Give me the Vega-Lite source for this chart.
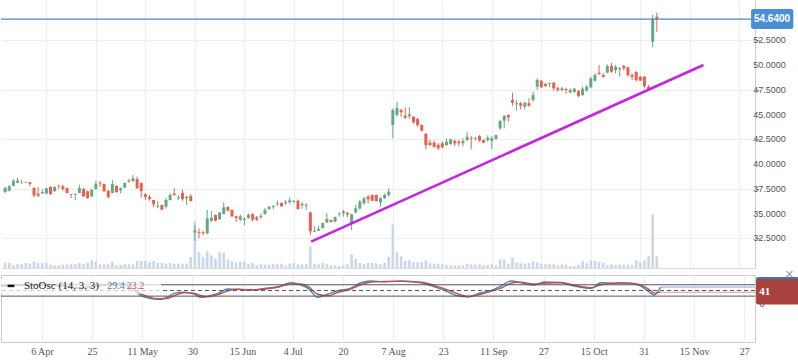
{
  "$schema": "https://vega.github.io/schema/vega-lite/v6.json",
  "padding": 0,
  "background": "white",
  "spacing": 7,
  "bounds": "flush",
  "config": {"view": {"stroke": null}},
  "datasets": {
    "candles": [
      {"k":-1,"o":37.18,"h":37.68,"l":37.08,"c":37.58,"v":0.93},
      {"k":0,"o":37.31,"h":37.88,"l":37.23,"c":37.75,"v":0.93},
      {"k":1,"o":37.81,"h":38.49,"l":37.73,"c":38.32,"v":0.5},
      {"k":2,"o":38.12,"h":38.59,"l":38.06,"c":38.32,"v":0.75},
      {"k":3,"o":38.06,"h":38.39,"l":38.01,"c":38.11,"v":0.75},
      {"k":4,"o":38.19,"h":38.24,"l":38.09,"c":38.14,"v":0.93},
      {"k":5,"o":38.16,"h":38.2,"l":37.75,"c":37.99,"v":0.84},
      {"k":6,"o":37.58,"h":37.68,"l":36.64,"c":36.84,"v":1.21},
      {"k":7,"o":37.0,"h":37.68,"l":36.67,"c":36.8,"v":0.93},
      {"k":8,"o":37.04,"h":37.45,"l":36.98,"c":37.18,"v":0.93},
      {"k":9,"o":37.0,"h":37.6,"l":36.95,"c":37.55,"v":1.03},
      {"k":10,"o":37.68,"h":37.75,"l":36.9,"c":36.98,"v":0.65},
      {"k":11,"o":37.25,"h":37.75,"l":37.18,"c":37.68,"v":0.5},
      {"k":12,"o":37.86,"h":37.9,"l":37.48,"c":37.81,"v":0.5},
      {"k":13,"o":37.75,"h":37.91,"l":37.31,"c":37.48,"v":0.62},
      {"k":14,"o":37.58,"h":37.63,"l":37.0,"c":37.08,"v":0.62},
      {"k":15,"o":36.97,"h":37.0,"l":36.57,"c":36.9,"v":0.8},
      {"k":16,"o":36.9,"h":37.08,"l":36.37,"c":36.97,"v":0.69},
      {"k":17,"o":37.08,"h":37.91,"l":37.04,"c":37.58,"v":0.93},
      {"k":18,"o":37.48,"h":37.55,"l":36.68,"c":36.74,"v":0.8},
      {"k":19,"o":37.25,"h":37.3,"l":36.5,"c":36.57,"v":0.99},
      {"k":20,"o":36.74,"h":37.45,"l":36.68,"c":37.41,"v":1.44},
      {"k":21,"o":37.48,"h":38.32,"l":37.4,"c":37.99,"v":1.18},
      {"k":22,"o":38.12,"h":38.26,"l":37.68,"c":38.04,"v":0.69},
      {"k":23,"o":37.99,"h":38.02,"l":37.2,"c":37.25,"v":0.69},
      {"k":24,"o":37.31,"h":37.35,"l":36.6,"c":36.64,"v":0.69},
      {"k":25,"o":37.08,"h":38.42,"l":37.05,"c":37.99,"v":1.18},
      {"k":26,"o":37.78,"h":37.85,"l":37.1,"c":37.18,"v":0.5},
      {"k":27,"o":37.35,"h":37.65,"l":37.04,"c":37.55,"v":0.56},
      {"k":28,"o":37.61,"h":38.15,"l":37.55,"c":38.09,"v":0.69},
      {"k":29,"o":38.32,"h":38.49,"l":38.12,"c":38.22,"v":0.69},
      {"k":30,"o":38.29,"h":38.89,"l":38.16,"c":38.56,"v":0.69},
      {"k":31,"o":38.49,"h":38.72,"l":37.5,"c":37.55,"v":1.31},
      {"k":32,"o":38.09,"h":38.12,"l":36.64,"c":37.28,"v":1.31},
      {"k":33,"o":36.95,"h":37.04,"l":36.37,"c":36.67,"v":1.31},
      {"k":34,"o":36.67,"h":36.87,"l":36.3,"c":36.47,"v":1.06},
      {"k":35,"o":36.37,"h":36.4,"l":35.63,"c":35.94,"v":1.31},
      {"k":36,"o":35.69,"h":36.27,"l":35.53,"c":35.79,"v":0.93},
      {"k":37,"o":35.86,"h":35.9,"l":35.35,"c":35.39,"v":0.93},
      {"k":38,"o":35.69,"h":36.6,"l":35.5,"c":36.37,"v":0.8},
      {"k":39,"o":36.37,"h":37.04,"l":36.3,"c":36.87,"v":0.93},
      {"k":40,"o":37.0,"h":37.55,"l":36.8,"c":36.87,"v":0.8},
      {"k":41,"o":36.54,"h":36.87,"l":36.37,"c":36.64,"v":0.8},
      {"k":42,"o":37.08,"h":37.41,"l":36.3,"c":36.47,"v":0.8},
      {"k":43,"o":36.54,"h":36.8,"l":35.86,"c":36.67,"v":0.8},
      {"k":44,"o":36.77,"h":36.94,"l":36.2,"c":36.27,"v":2.05},
      {"k":45,"o":33.1,"h":33.84,"l":32.23,"c":33.3,"v":8.71},
      {"k":46,"o":33.13,"h":33.51,"l":32.5,"c":33.03,"v":2.93},
      {"k":47,"o":33.1,"h":33.24,"l":32.83,"c":33.0,"v":2.05},
      {"k":48,"o":33.0,"h":35.36,"l":32.9,"c":34.52,"v":3.12},
      {"k":49,"o":34.25,"h":35.26,"l":34.18,"c":34.58,"v":2.37},
      {"k":50,"o":34.85,"h":34.9,"l":34.2,"c":34.28,"v":1.74},
      {"k":51,"o":34.42,"h":35.15,"l":34.35,"c":35.09,"v":2.93},
      {"k":52,"o":34.95,"h":36.14,"l":34.92,"c":35.63,"v":2.8},
      {"k":53,"o":35.66,"h":35.72,"l":35.2,"c":35.29,"v":1.62},
      {"k":54,"o":35.36,"h":35.4,"l":34.65,"c":34.72,"v":1.31},
      {"k":55,"o":34.72,"h":34.76,"l":34.15,"c":34.55,"v":1.06},
      {"k":56,"o":34.38,"h":34.88,"l":34.22,"c":34.72,"v":1.18},
      {"k":57,"o":34.35,"h":34.62,"l":33.81,"c":34.48,"v":1.18},
      {"k":58,"o":34.55,"h":35.0,"l":34.48,"c":34.88,"v":0.75},
      {"k":59,"o":34.95,"h":35.0,"l":34.22,"c":34.38,"v":0.99},
      {"k":60,"o":34.62,"h":34.75,"l":34.22,"c":34.38,"v":0.5},
      {"k":61,"o":34.65,"h":35.0,"l":34.45,"c":34.78,"v":0.69},
      {"k":62,"o":34.95,"h":35.56,"l":34.88,"c":35.36,"v":0.62},
      {"k":63,"o":35.43,"h":35.76,"l":35.38,"c":35.69,"v":0.62},
      {"k":64,"o":35.64,"h":35.89,"l":35.43,"c":35.75,"v":0.69},
      {"k":65,"o":35.92,"h":36.3,"l":35.79,"c":36.01,"v":0.69},
      {"k":66,"o":36.07,"h":36.12,"l":35.68,"c":35.73,"v":0.8},
      {"k":67,"o":36.04,"h":36.37,"l":35.83,"c":36.14,"v":0.5},
      {"k":68,"o":36.14,"h":36.64,"l":35.97,"c":36.34,"v":0.8},
      {"k":69,"o":36.16,"h":36.37,"l":36.07,"c":36.25,"v":0.93},
      {"k":70,"o":36.3,"h":36.4,"l":35.39,"c":35.46,"v":0.69},
      {"k":71,"o":35.83,"h":36.17,"l":35.49,"c":35.97,"v":0.69},
      {"k":72,"o":35.79,"h":36.07,"l":35.39,"c":35.89,"v":0.69},
      {"k":73,"o":35.12,"h":35.16,"l":32.8,"c":33.21,"v":4.05},
      {"k":74,"o":33.17,"h":33.71,"l":33.14,"c":33.27,"v":0.8},
      {"k":75,"o":33.27,"h":33.74,"l":33.23,"c":33.44,"v":0.69},
      {"k":76,"o":33.54,"h":34.08,"l":33.47,"c":34.05,"v":0.93},
      {"k":77,"o":34.08,"h":35.06,"l":34.05,"c":34.45,"v":0.69},
      {"k":78,"o":34.35,"h":34.4,"l":34.1,"c":34.15,"v":0.5},
      {"k":79,"o":34.18,"h":34.7,"l":34.12,"c":34.65,"v":0.5},
      {"k":80,"o":34.92,"h":35.12,"l":34.68,"c":35.0,"v":0.37},
      {"k":81,"o":35.03,"h":35.36,"l":34.68,"c":35.23,"v":0.5},
      {"k":82,"o":35.09,"h":35.12,"l":34.65,"c":34.92,"v":0.69},
      {"k":83,"o":34.05,"h":34.99,"l":33.34,"c":34.92,"v":2.56},
      {"k":84,"o":35.12,"h":35.86,"l":35.0,"c":35.53,"v":1.68},
      {"k":85,"o":35.53,"h":36.37,"l":35.36,"c":36.2,"v":0.93},
      {"k":86,"o":36.04,"h":36.7,"l":35.86,"c":36.54,"v":0.69},
      {"k":87,"o":36.7,"h":36.87,"l":36.04,"c":36.44,"v":0.93},
      {"k":88,"o":36.87,"h":36.92,"l":36.25,"c":36.3,"v":0.93},
      {"k":89,"o":36.87,"h":36.92,"l":36.22,"c":36.27,"v":0.8},
      {"k":90,"o":36.14,"h":36.7,"l":35.69,"c":36.54,"v":0.69},
      {"k":91,"o":36.54,"h":37.04,"l":36.47,"c":36.87,"v":0.93},
      {"k":92,"o":36.87,"h":37.55,"l":36.7,"c":37.21,"v":2.05},
      {"k":93,"o":43.95,"h":45.63,"l":42.6,"c":45.46,"v":8.15},
      {"k":94,"o":44.95,"h":46.3,"l":44.78,"c":45.69,"v":2.93},
      {"k":95,"o":45.46,"h":45.56,"l":44.78,"c":45.23,"v":2.18},
      {"k":96,"o":44.88,"h":45.73,"l":44.55,"c":44.68,"v":1.31},
      {"k":97,"o":44.82,"h":45.73,"l":44.55,"c":45.03,"v":1.44},
      {"k":98,"o":44.78,"h":44.82,"l":44.08,"c":44.22,"v":1.06},
      {"k":99,"o":44.55,"h":44.65,"l":43.74,"c":43.95,"v":1.06},
      {"k":100,"o":43.95,"h":44.0,"l":43.3,"c":43.37,"v":1.06},
      {"k":101,"o":43.04,"h":43.14,"l":41.49,"c":41.92,"v":1.44},
      {"k":102,"o":42.16,"h":42.43,"l":41.82,"c":41.92,"v":0.88},
      {"k":103,"o":42.16,"h":42.36,"l":41.59,"c":41.75,"v":0.8},
      {"k":104,"o":41.92,"h":42.1,"l":41.42,"c":41.59,"v":0.8},
      {"k":105,"o":42.1,"h":42.26,"l":41.59,"c":41.69,"v":0.69},
      {"k":106,"o":41.92,"h":42.6,"l":41.82,"c":42.26,"v":0.62},
      {"k":107,"o":42.02,"h":42.55,"l":41.95,"c":42.5,"v":0.5},
      {"k":108,"o":42.33,"h":42.5,"l":41.82,"c":42.1,"v":0.5},
      {"k":109,"o":42.26,"h":42.43,"l":41.82,"c":42.1,"v":0.5},
      {"k":110,"o":42.1,"h":42.6,"l":41.75,"c":42.33,"v":0.5},
      {"k":111,"o":42.43,"h":43.27,"l":42.33,"c":42.76,"v":0.8},
      {"k":112,"o":42.64,"h":42.83,"l":41.49,"c":42.56,"v":0.69},
      {"k":113,"o":42.56,"h":42.76,"l":42.36,"c":42.64,"v":0.62},
      {"k":114,"o":42.83,"h":42.93,"l":42.26,"c":42.36,"v":0.69},
      {"k":115,"o":42.43,"h":42.48,"l":42.1,"c":42.16,"v":0.5},
      {"k":116,"o":42.43,"h":42.9,"l":42.26,"c":42.66,"v":0.56},
      {"k":117,"o":42.33,"h":42.83,"l":41.49,"c":42.6,"v":0.69},
      {"k":118,"o":42.53,"h":42.98,"l":42.48,"c":42.93,"v":0.5},
      {"k":119,"o":43.61,"h":44.45,"l":43.44,"c":44.35,"v":1.62},
      {"k":120,"o":44.38,"h":44.95,"l":43.61,"c":44.85,"v":1.62},
      {"k":121,"o":44.95,"h":45.0,"l":44.28,"c":44.72,"v":0.8},
      {"k":122,"o":46.47,"h":47.21,"l":45.89,"c":46.2,"v":2.0},
      {"k":123,"o":46.04,"h":46.47,"l":45.39,"c":46.14,"v":0.99},
      {"k":124,"o":46.14,"h":46.3,"l":45.53,"c":45.89,"v":0.88},
      {"k":125,"o":45.79,"h":46.3,"l":45.53,"c":46.2,"v":0.8},
      {"k":126,"o":46.14,"h":46.64,"l":45.79,"c":45.89,"v":0.93},
      {"k":127,"o":46.47,"h":47.31,"l":46.3,"c":46.97,"v":1.25},
      {"k":128,"o":47.81,"h":48.66,"l":47.48,"c":48.49,"v":1.06},
      {"k":129,"o":48.42,"h":48.5,"l":47.7,"c":47.75,"v":0.8},
      {"k":130,"o":48.09,"h":48.16,"l":47.81,"c":47.88,"v":0.69},
      {"k":131,"o":48.08,"h":48.22,"l":47.75,"c":48.17,"v":0.69},
      {"k":132,"o":48.22,"h":48.29,"l":47.41,"c":47.65,"v":0.69},
      {"k":133,"o":47.65,"h":47.81,"l":47.31,"c":47.48,"v":0.5},
      {"k":134,"o":47.48,"h":47.81,"l":47.31,"c":47.65,"v":0.69},
      {"k":135,"o":47.58,"h":47.71,"l":47.08,"c":47.48,"v":0.62},
      {"k":136,"o":47.25,"h":47.65,"l":47.15,"c":47.48,"v":0.37},
      {"k":137,"o":47.28,"h":47.71,"l":47.21,"c":47.61,"v":0.37},
      {"k":138,"o":47.35,"h":47.48,"l":46.74,"c":46.87,"v":0.56},
      {"k":139,"o":46.97,"h":47.81,"l":46.87,"c":47.61,"v":1.31},
      {"k":140,"o":47.41,"h":47.98,"l":47.31,"c":47.81,"v":0.93},
      {"k":141,"o":47.75,"h":48.82,"l":47.65,"c":48.66,"v":1.44},
      {"k":142,"o":48.42,"h":49.17,"l":48.32,"c":48.99,"v":1.31},
      {"k":143,"o":49.23,"h":50.0,"l":49.0,"c":49.1,"v":1.18},
      {"k":144,"o":48.99,"h":49.17,"l":48.72,"c":48.82,"v":0.93},
      {"k":145,"o":49.23,"h":50.07,"l":49.17,"c":49.9,"v":0.5},
      {"k":146,"o":49.9,"h":50.24,"l":49.23,"c":49.33,"v":0.69},
      {"k":147,"o":49.5,"h":50.0,"l":49.17,"c":49.83,"v":0.56},
      {"k":148,"o":49.56,"h":49.77,"l":48.82,"c":49.68,"v":0.62},
      {"k":149,"o":49.9,"h":50.0,"l":49.5,"c":49.67,"v":0.62},
      {"k":150,"o":49.77,"h":49.83,"l":48.82,"c":48.99,"v":0.62},
      {"k":151,"o":48.99,"h":49.17,"l":48.49,"c":48.82,"v":0.5},
      {"k":152,"o":49.3,"h":49.4,"l":48.32,"c":48.49,"v":1.44},
      {"k":153,"o":48.82,"h":48.9,"l":48.38,"c":48.42,"v":1.06},
      {"k":154,"o":48.82,"h":48.9,"l":47.65,"c":47.88,"v":1.44},
      {"k":155,"o":47.81,"h":47.98,"l":47.48,"c":47.58,"v":2.18},
      {"k":156,"o":52.36,"h":55.06,"l":51.79,"c":54.66,"v":10.02},
      {"k":157,"o":54.88,"h":55.29,"l":53.37,"c":54.64,"v":2.18}
    ],
    "stoch": [
      {"k":-0.8,"K":73.3,"D":72},{"k":8.8,"K":83.9,"D":80},{"k":18.3,"K":62.7,"D":66},{"k":27.9,"K":89.2,"D":85},
      {"k":33.4,"K":16.5,"D":25},{"k":36.8,"K":2.7,"D":6},{"k":39.2,"K":16.5,"D":9},{"k":40.6,"K":34.5,"D":22},
      {"k":43,"K":41.4,"D":38},{"k":45.4,"K":30.8,"D":36},{"k":47.1,"K":13.3,"D":22},{"k":48.7,"K":20.2,"D":16},
      {"k":51.1,"K":34.5,"D":28},{"k":53.5,"K":57.4,"D":48},{"k":55.9,"K":55.8,"D":56},{"k":58.3,"K":52,"D":54},
      {"k":60.7,"K":55.8,"D":54},{"k":63.1,"K":62.7,"D":60},{"k":65.5,"K":69.6,"D":67},{"k":68.6,"K":90.8,"D":85},
      {"k":71,"K":78.6,"D":84},{"k":72.7,"K":61.1,"D":70},{"k":75,"K":13.3,"D":30},{"k":77.4,"K":30.8,"D":22},
      {"k":79.8,"K":48.3,"D":40},{"k":82.9,"K":62.7,"D":57},{"k":85.3,"K":90.8,"D":80},{"k":87.7,"K":99.8,"D":95},
      {"k":90.8,"K":96.1,"D":97},{"k":94.9,"K":99.8,"D":98},{"k":99.7,"K":90.8,"D":93},{"k":102.8,"K":69.6,"D":77},
      {"k":105.2,"K":52,"D":60},{"k":108.5,"K":21.8,"D":32},{"k":110.9,"K":16.5,"D":18},{"k":114,"K":37.7,"D":30},
      {"k":117.2,"K":55.8,"D":50},{"k":118.8,"K":73.3,"D":62},{"k":121.2,"K":99.8,"D":88},{"k":123.6,"K":90.8,"D":94},
      {"k":126.7,"K":78.6,"D":84},{"k":129.1,"K":94.5,"D":88},{"k":133.2,"K":90.8,"D":92},{"k":136.3,"K":73.3,"D":78},
      {"k":140.4,"K":61.1,"D":64},{"k":142.7,"K":90.8,"D":80},{"k":145.9,"K":87.6,"D":89},{"k":147.5,"K":90.8,"D":89},
      {"k":149.9,"K":87.6,"D":89},{"k":152.3,"K":73.3,"D":78},{"k":154.7,"K":34.5,"D":48},{"k":155.4,"K":25.5,"D":36},
      {"k":157,"K":68,"D":41}
    ],
    "priceTicks": [
      {"p": 32.5}, {"p": 35}, {"p": 37.5}, {"p": 40}, {"p": 42.5}, {"p": 45}, {"p": 47.5}, {"p": 50}, {"p": 52.5}
    ]
  },
  "vconcat": [
    {
      "width": 754,
      "height": 268,
      "layer": [
        {
          "data": {"name": "candles"},
          "mark": {"type": "bar", "size": 2.6, "color": "#c9d7ea", "clip": true},
          "encoding": {
            "x": {"field": "k", "type": "quantitative",
              "scale": {"domain": [-0.79, 179.59], "nice": false, "zero": false},
              "axis": {"values": [9,21,33,45,57,69,81,93,105,117,129,141,153,165,177], "labels": false, "ticks": false, "domain": true, "domainColor": "#dddddd", "grid": true, "gridColor": "#eeeeee", "title": null}},
            "y": {"field": "v", "type": "quantitative", "scale": {"domain": [0, 50], "nice": false}, "axis": null}
          }
        },
        {
          "layer": [
            {
              "data": {"name": "candles"},
              "mark": {"type": "rule", "strokeWidth": 1, "clip": true},
              "encoding": {
                "x": {"field": "k", "type": "quantitative"},
                "y": {"field": "l", "type": "quantitative",
                  "scale": {"domain": [29.5, 56.57], "nice": false, "zero": false},
                  "axis": {"orient": "right", "values": [32.5,35,37.5,40,42.5,45,47.5,50,52.5], "labels": false, "grid": true, "gridColor": "#eeeeee", "domainColor": "#cccccc", "tickColor": "#999999", "tickSize": 4, "title": null}},
                "y2": {"field": "h"},
                "color": {"condition": {"test": "datum.c >= datum.o", "value": "#66a884"}, "value": "#e9604d"}
              }
            },
            {
              "data": {"name": "candles"},
              "mark": {"type": "bar", "size": 3, "clip": true},
              "encoding": {
                "x": {"field": "k", "type": "quantitative"},
                "y": {"field": "o", "type": "quantitative"},
                "y2": {"field": "c"},
                "color": {"condition": {"test": "datum.c >= datum.o", "value": "#66a884"}, "value": "#e9604d"}
              }
            },
            {
              "data": {"values": [{"k": 73.2, "p": 32.16}, {"k": 168.3, "p": 50.0}]},
              "mark": {"type": "line", "color": "#c524e0", "strokeWidth": 2.6, "clip": true},
              "encoding": {
                "x": {"field": "k", "type": "quantitative"},
                "y": {"field": "p", "type": "quantitative"}
              }
            },
            {
              "data": {"name": "priceTicks"},
              "mark": {"type": "text", "align": "left", "baseline": "middle", "font": "Liberation Sans", "fontSize": 9, "color": "#555555", "clip": false},
              "encoding": {
                "x": {"datum": 180.4},
                "y": {"field": "p", "type": "quantitative"},
                "text": {"field": "p", "type": "quantitative", "format": ".4f"}
              }
            },
            {
              "data": {"values": [{"last": 54.64}]},
              "mark": {"type": "rule", "color": "#4a86c8", "strokeWidth": 1.3},
              "encoding": {"y": {"field": "last", "type": "quantitative"}}
            },
            {
              "data": {"values": [{"last": 54.64}]},
              "mark": {"type": "rect", "color": "#4a8fd6", "cornerRadius": 2, "clip": false},
              "encoding": {
                "x": {"datum": 179.85}, "x2": {"datum": 190.1},
                "y": {"datum": 53.63}, "y2": {"datum": 55.65}
              }
            },
            {
              "data": {"values": [{"last": 54.64}]},
              "mark": {"type": "text", "align": "left", "baseline": "middle", "font": "Liberation Sans", "fontSize": 10, "fontWeight": "bold", "color": "white", "clip": false},
              "encoding": {
                "x": {"datum": 180.55},
                "y": {"field": "last", "type": "quantitative"},
                "text": {"field": "last", "type": "quantitative", "format": ".4f"}
              }
            }
          ]
        }
      ],
      "resolve": {"scale": {"y": "independent"}}
    },
    {
      "width": 754,
      "height": 67,
      "view": {"stroke": "#cccccc"},
      "layer": [
        {
          "data": {"name": "stoch"},
          "mark": {"type": "line", "color": "#4a7ebf", "strokeWidth": 1.4, "interpolate": "monotone", "clip": true},
          "encoding": {
            "x": {"field": "k", "type": "quantitative",
              "scale": {"domain": [-0.79, 179.59], "nice": false, "zero": false},
              "axis": {"values": [9,21,33,45,57,69,81,93,105,117,129,141,153,165,177],
                "labelExpr": "['6 Apr','25','11 May','30','15 Jun','4 Jul','20','7 Aug','23','11 Sep','27','15 Oct','31','15 Nov','27'][round((datum.value-9)/12)]",
                "ticks": false, "tickSize": 0, "domain": false, "grid": true, "gridColor": "#eeeeee", "labelPadding": 4, "labelFont": "Liberation Serif", "labelFontSize": 10, "labelColor": "#555555", "title": null}},
            "y": {"field": "K", "type": "quantitative",
              "scale": {"domain": [-222.5, 131.7], "nice": false, "zero": false},
              "axis": {"orient": "right", "values": [0], "grid": false, "domain": false, "ticks": false, "labelPadding": 4, "labelBaseline": "top", "labelFont": "Liberation Sans", "labelFontSize": 9, "labelColor": "#555555", "title": null}}
          }
        },
        {
          "data": {"name": "stoch"},
          "mark": {"type": "line", "color": "#c0504d", "strokeWidth": 1.4, "interpolate": "monotone", "clip": true},
          "encoding": {
            "x": {"field": "k", "type": "quantitative"},
            "y": {"field": "D", "type": "quantitative"}
          }
        },
        {
          "data": {"values": [{"lvl": 80}, {"lvl": 20}]},
          "mark": {"type": "rule", "color": "#555555", "strokeWidth": 1},
          "encoding": {"y": {"field": "lvl", "type": "quantitative"}}
        },
        {
          "data": {"values": [{"lvl": 50}]},
          "mark": {"type": "rule", "color": "#555555", "strokeWidth": 1, "strokeDash": [4, 3]},
          "encoding": {"y": {"field": "lvl", "type": "quantitative"}}
        },
        {
          "data": {"name": "stoch"},
          "transform": [{"filter": "datum.k == 157"}],
          "mark": {"type": "rule", "color": "#8eaad6", "strokeWidth": 1},
          "encoding": {"x": {"field": "k", "type": "quantitative"}, "x2": {"datum": 179.59}, "y": {"field": "K", "type": "quantitative"}}
        },
        {
          "data": {"name": "stoch"},
          "transform": [{"filter": "datum.k == 157"}],
          "mark": {"type": "rule", "color": "#d99a98", "strokeWidth": 1},
          "encoding": {"x": {"field": "k", "type": "quantitative"}, "x2": {"datum": 179.59}, "y": {"field": "D", "type": "quantitative"}}
        },
        {
          "data": {"values": [{}]},
          "mark": {"type": "rect", "color": "white", "opacity": 0.72},
          "encoding": {"x": {"datum": -0.79}, "x2": {"datum": 37.5}, "y": {"datum": 32}, "y2": {"datum": 112}}
        },
        {
          "data": {"values": [{}]},
          "mark": {"type": "rule", "color": "#111111", "strokeWidth": 2.5},
          "encoding": {"x": {"datum": 0.8}, "x2": {"datum": 2.4}, "y": {"datum": 74}}
        },
        {
          "data": {"values": [{"t": "StoOsc (14, 3, 3)", "kx": 4.7, "col": "#222222", "fs": 11}, {"t": "29.4", "kx": 24.6, "col": "#4a7ebf", "fs": 10}, {"t": "23.2", "kx": 29.3, "col": "#c0504d", "fs": 10}]},
          "mark": {"type": "text", "align": "left", "baseline": "middle", "font": "Liberation Serif"},
          "encoding": {
            "x": {"field": "kx", "type": "quantitative"},
            "y": {"datum": 73},
            "text": {"field": "t"},
            "size": {"field": "fs", "type": "quantitative", "scale": null},
            "color": {"field": "col", "type": "nominal", "scale": null}
          }
        },
        {
          "data": {"values": [{}]},
          "mark": {"type": "rect", "color": "#4672b4", "cornerRadius": 2, "clip": false},
          "encoding": {"x": {"datum": 179.85}, "x2": {"datum": 190.1}, "y": {"datum": 15}, "y2": {"datum": 121}}
        },
        {
          "data": {"values": [{}]},
          "mark": {"type": "rect", "color": "#a8423e", "cornerRadius": 2, "clip": false},
          "encoding": {"x": {"datum": 179.85}, "x2": {"datum": 190.1}, "y": {"datum": -24}, "y2": {"datum": 108.9}}
        },
        {
          "data": {"name": "stoch"},
          "transform": [{"filter": "datum.k == 157"}],
          "mark": {"type": "text", "align": "left", "baseline": "middle", "font": "Liberation Serif", "fontSize": 11, "fontWeight": "bold", "color": "white", "clip": false},
          "encoding": {"x": {"datum": 180.6}, "y": {"field": "D", "type": "quantitative"}, "text": {"field": "D", "type": "quantitative", "format": "d"}}
        },
        {
          "data": {"values": [{}]},
          "mark": {"type": "text", "text": "✕", "align": "center", "baseline": "middle", "font": "DejaVu Sans", "fontSize": 11, "color": "#999999", "clip": false},
          "encoding": {"x": {"datum": 187.8}, "y": {"datum": 130}}
        }
      ]
    }
  ]
}
